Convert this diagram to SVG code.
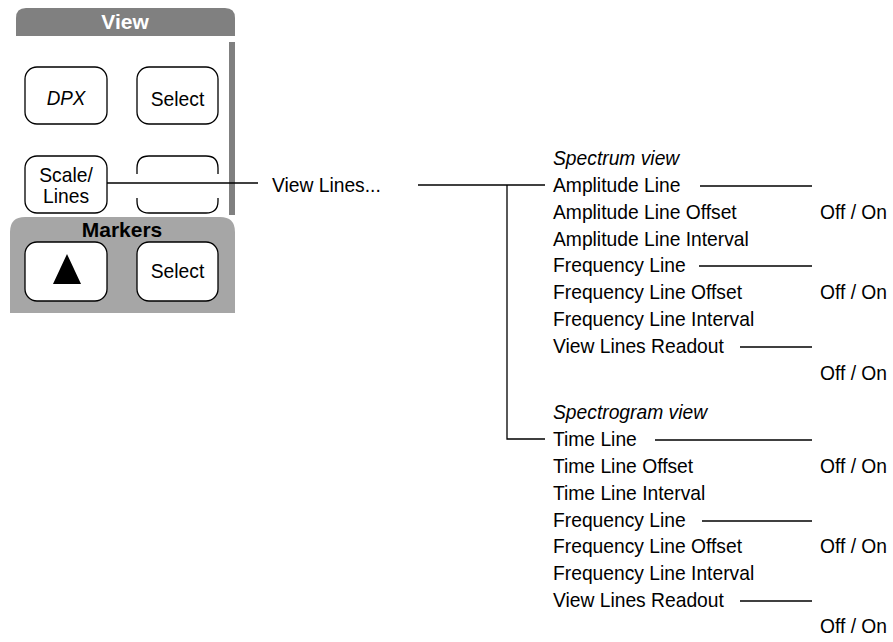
<svg xmlns="http://www.w3.org/2000/svg" width="893" height="642" viewBox="0 0 893 642">
<style>
.t{font-family:"Liberation Sans",Arial,sans-serif;font-size:20.5px;fill:#000}
.i{font-style:italic}
.b{font-weight:bold;font-size:21px}
.m{text-anchor:middle}
.btn{fill:#fff;stroke:#000;stroke-width:1.3}
.ln{fill:none;stroke:#000;stroke-width:1.3}
</style>
<rect width="893" height="642" fill="#fff"/>
<g id="panel">
  <path d="M16,36 V18 Q16,8 26,8 H225 Q235,8 235,18 V36 Z" fill="#808080"/>
  <text class="t b m" x="125" y="29" fill="#fff" style="fill:#fff">View</text>
  <rect x="229" y="42" width="6" height="173" fill="#808080"/>
  <path d="M10,313 V232 Q10,217 25,217 H220 Q235,217 235,232 V313 Z" fill="#a6a6a6"/>
  <text class="t b m" x="122" y="237">Markers</text>
</g>
<g id="btn-dpx">
  <rect class="btn" x="25" y="67" width="82" height="57" rx="12"/>
  <text class="t i m" transform="translate(66,105) scale(0.92,1)">DPX</text>
</g>
<g id="btn-select-view">
  <rect class="btn" x="137" y="67" width="81" height="57" rx="12"/>
  <text class="t m" transform="translate(177.5,106) scale(0.94,1)">Select</text>
</g>
<g id="btn-scale-lines">
  <rect class="btn" x="25" y="156" width="82" height="57" rx="12"/>
  <text class="t m" transform="translate(66,182) scale(0.94,1)">Scale/</text>
  <text class="t m" transform="translate(66,203) scale(0.94,1)">Lines</text>
</g>
<g id="btn-blank">
  <path class="ln" d="M137,174 V168 Q137,156 149,156 H206 Q218,156 218,168 V174"/>
  <path class="ln" d="M137,198 V201 Q137,213 149,213 H206 Q218,213 218,201 V198"/>
</g>
<g id="btn-marker-up">
  <rect class="btn" x="25" y="242" width="82" height="59" rx="12"/>
  <polygon points="67,254 53,284 81,284" fill="#000"/>
</g>
<g id="btn-select-markers">
  <rect class="btn" x="137" y="242" width="81" height="59" rx="12"/>
  <text class="t m" transform="translate(177.5,278) scale(0.94,1)">Select</text>
</g>
<g id="connectors">
  <path class="ln" d="M107,183 H258"/>
  <path class="ln" d="M418,185 H545"/>
  <path class="ln" d="M507,185 V439 H545"/>
  <path class="ln" d="M700,186 H812"/>
  <path class="ln" d="M699,266 H812"/>
  <path class="ln" d="M740,347 H812"/>
  <path class="ln" d="M655,440 H812"/>
  <path class="ln" d="M702,521 H812"/>
  <path class="ln" d="M740,601 H812"/>
</g>
<g id="view-lines">
  <text class="t" transform="translate(272,192) scale(0.94,1)">View Lines...</text>
</g>
<g id="spectrum">
  <text class="t i" transform="translate(553,165) scale(0.94,1)">Spectrum view</text>
  <text class="t" transform="translate(553,192) scale(0.94,1)">Amplitude Line</text>
  <text class="t" transform="translate(553,219) scale(0.94,1)">Amplitude Line Offset</text>
  <text class="t" transform="translate(553,246) scale(0.94,1)">Amplitude Line Interval</text>
  <text class="t" transform="translate(553,272) scale(0.94,1)">Frequency Line</text>
  <text class="t" transform="translate(553,299) scale(0.94,1)">Frequency Line Offset</text>
  <text class="t" transform="translate(553,326) scale(0.94,1)">Frequency Line Interval</text>
  <text class="t" transform="translate(553,353) scale(0.94,1)">View Lines Readout</text>
  <text class="t" transform="translate(820,219) scale(0.94,1)">Off / On</text>
  <text class="t" transform="translate(820,299) scale(0.94,1)">Off / On</text>
  <text class="t" transform="translate(820,380) scale(0.94,1)">Off / On</text>
</g>
<g id="spectrogram">
  <text class="t i" transform="translate(553,419) scale(0.94,1)">Spectrogram view</text>
  <text class="t" transform="translate(553,446) scale(0.94,1)">Time Line</text>
  <text class="t" transform="translate(553,473) scale(0.94,1)">Time Line Offset</text>
  <text class="t" transform="translate(553,500) scale(0.94,1)">Time Line Interval</text>
  <text class="t" transform="translate(553,527) scale(0.94,1)">Frequency Line</text>
  <text class="t" transform="translate(553,553) scale(0.94,1)">Frequency Line Offset</text>
  <text class="t" transform="translate(553,580) scale(0.94,1)">Frequency Line Interval</text>
  <text class="t" transform="translate(553,607) scale(0.94,1)">View Lines Readout</text>
  <text class="t" transform="translate(820,473) scale(0.94,1)">Off / On</text>
  <text class="t" transform="translate(820,553) scale(0.94,1)">Off / On</text>
  <text class="t" transform="translate(820,633) scale(0.94,1)">Off / On</text>
</g>
</svg>
